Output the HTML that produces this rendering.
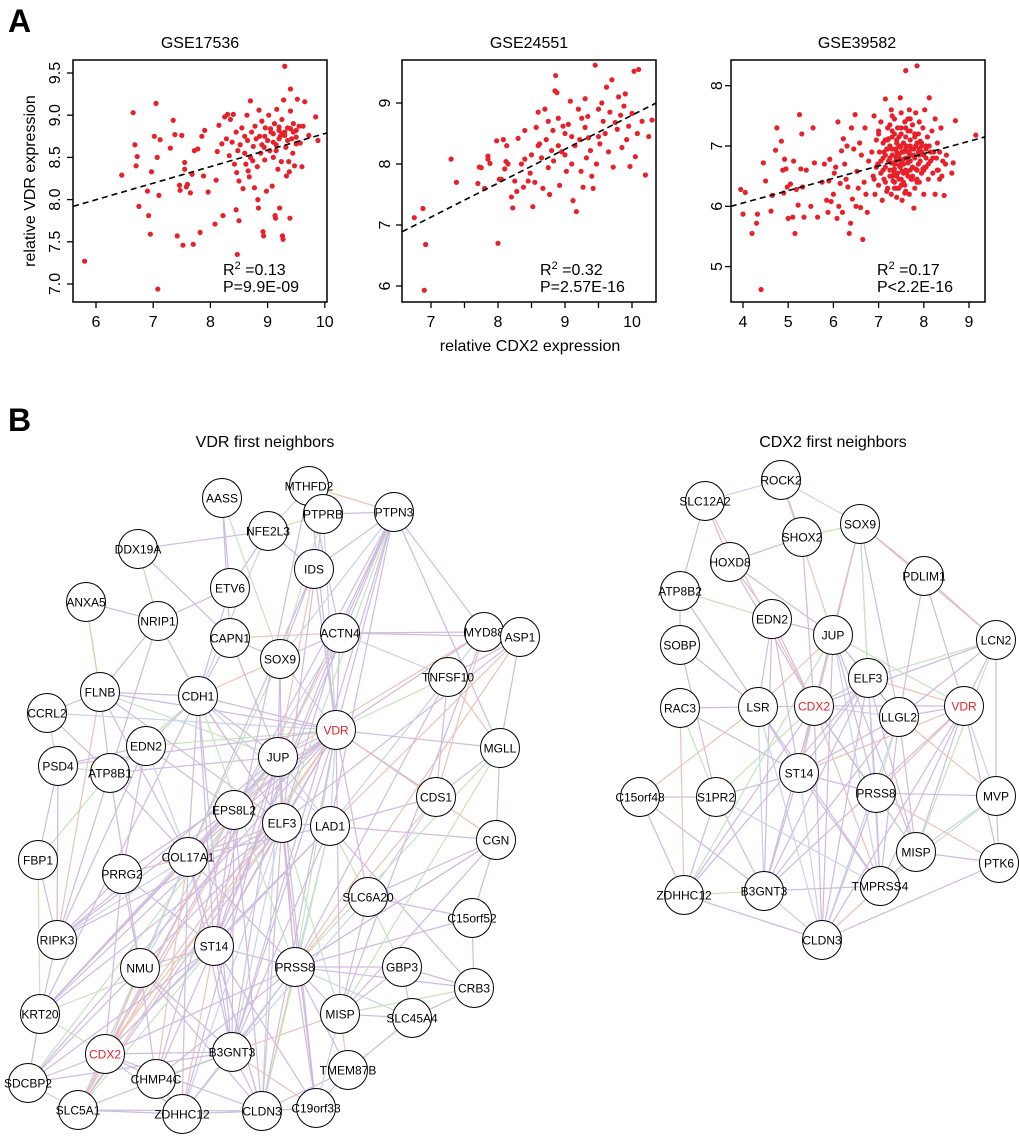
<!DOCTYPE html>
<html><head><meta charset="utf-8"><style>
body{margin:0;background:#fff}
svg{display:block;font-family:"Liberation Sans",Arial,sans-serif}
</style></head><body>
<svg id="fig" width="1020" height="1141" viewBox="0 0 1020 1141" xmlns="http://www.w3.org/2000/svg">
<text x="8" y="32" font-size="32" font-weight="bold">A</text>
<text x="8" y="431" font-size="32" font-weight="bold">B</text>
<text x="200" y="48" font-size="16" text-anchor="middle">GSE17536</text>
<text x="529" y="48" font-size="16" text-anchor="middle">GSE24551</text>
<text x="857" y="48" font-size="16" text-anchor="middle">GSE39582</text>
<text transform="translate(35,181) rotate(-90)" font-size="16" text-anchor="middle">relative VDR expression</text>
<text x="530" y="351" font-size="16" text-anchor="middle">relative CDX2 expression</text>
<text x="265" y="447" font-size="16" text-anchor="middle">VDR first neighbors</text>
<text x="833" y="447" font-size="16" text-anchor="middle">CDX2 first neighbors</text>
<g id="plots"></g>
<g id="edges"></g>
<g id="nodes"></g>
</svg>
<script>
// ---- scatter data ----
const p1x=[5.8,6.45,6.65,6.68,6.72,6.7,6.75,6.9,6.92,6.95,6.97,7.02,7.05,7.07,7.1,7.12,7.08,7.3,7.35,7.38,7.42,7.46,7.47,7.5,7.52,7.55,7.55,7.58,7.6,7.65,7.68,7.7,7.72,7.78,7.82,7.85,7.88,7.9,7.96,8.08,8.1,8.12,8.15,8.2,8.25,8.22,8.3,8.28,8.33,8.35,8.38,8.4,8.42,8.45,8.45,8.46,8.47,8.48,8.5,8.5,8.52,8.55,8.57,8.6,8.62,8.64,8.65,8.66,8.68,8.7,8.72,8.74,8.75,8.77,8.78,8.8,8.82,8.83,8.84,8.85,8.86,8.88,8.9,8.92,8.93,8.94,8.95,8.96,8.98,9.0,9.02,9.04,9.06,9.08,9.1,9.12,9.13,9.14,9.15,9.16,9.18,9.2,9.21,9.22,9.24,9.25,9.26,9.27,9.28,9.3,9.3,9.32,9.33,9.35,9.37,9.38,9.39,9.4,9.4,9.42,9.44,9.45,9.47,9.5,9.52,9.55,9.57,9.6,9.62,9.65,9.72,9.84,9.88,9.1,9.2,9.25,9.05,8.95,9.35,9.45,9.5,9.15,8.7,8.6,8.9,9.3,9.4,9.2,9.5,9.1];
const p1y=[7.27,8.29,9.03,8.65,8.51,8.4,7.92,8.1,7.81,7.59,8.33,8.75,9.14,8.5,8.05,8.71,6.94,8.61,8.94,8.77,7.57,8.17,8.11,8.76,7.46,8.44,8.36,8.15,8.18,8.08,8.3,7.47,8.58,8.6,7.61,8.75,8.28,8.82,8.09,7.71,8.23,8.57,8.88,8.66,8.98,7.81,9.01,8.72,8.52,8.95,8.68,9.01,8.42,8.8,7.88,8.32,7.35,8.58,8.22,7.75,8.65,8.85,8.13,8.55,8.42,9.0,8.7,8.34,8.27,9.17,8.8,8.46,8.63,8.14,8.87,8.72,8.39,8.0,7.9,9.06,8.75,8.55,8.93,7.62,7.57,8.62,8.47,8.85,8.1,8.7,9.0,8.58,8.8,8.16,8.5,8.9,7.81,7.78,8.65,9.07,8.36,8.82,7.9,8.75,8.45,8.95,7.57,7.53,9.18,9.58,8.8,8.62,8.28,8.85,8.45,8.33,7.78,9.31,9.05,8.72,8.55,8.9,8.4,8.82,9.19,8.87,8.67,8.39,8.87,9.16,8.76,8.98,8.7,8.78,8.72,8.78,8.84,8.75,8.7,8.8,8.66,8.58,8.5,8.75,8.65,8.76,8.84,8.86,8.74,8.68];
const p2x=[6.75,6.88,6.92,6.9,7.3,7.38,7.7,7.72,7.75,7.8,7.85,7.85,7.88,7.98,8.0,8.02,8.05,8.08,8.1,8.12,8.13,8.15,8.2,8.22,8.25,8.28,8.3,8.35,8.38,8.4,8.45,8.48,8.5,8.52,8.55,8.57,8.6,8.62,8.65,8.67,8.7,8.72,8.75,8.77,8.8,8.82,8.83,8.85,8.86,8.88,8.9,8.92,8.95,8.97,9.0,9.02,9.05,9.08,9.1,9.12,9.15,9.17,9.2,9.22,9.24,9.25,9.27,9.3,9.32,9.34,9.35,9.38,9.4,9.42,9.45,9.47,9.5,9.52,9.55,9.57,9.6,9.62,9.65,9.67,9.7,9.72,9.75,9.78,9.8,9.83,9.85,9.88,9.9,9.92,9.95,9.97,10.0,10.03,10.05,10.08,10.1,10.15,10.2,10.25,10.3,8.6,8.9,9.1,9.3,9.5,8.75,8.4,9.0];
const p2y=[7.12,7.27,6.68,5.93,8.08,7.7,7.68,7.95,7.94,7.6,8.13,8.08,8.01,8.38,6.7,7.75,7.75,8.4,7.92,8.04,8.3,8.0,7.46,7.28,7.72,7.55,8.42,8.0,7.62,8.08,7.72,7.85,8.15,7.3,7.7,8.6,8.3,8.33,8.1,7.6,8.9,8.4,7.94,7.5,8.22,8.55,8.05,9.2,9.45,9.17,8.75,7.65,8.2,8.62,8.5,7.88,8.65,9.03,8.0,7.4,8.3,7.22,8.9,8.4,7.88,8.75,7.62,9.07,8.1,8.78,8.43,8.22,7.8,7.6,9.62,8.0,8.9,8.33,9.0,8.7,8.5,9.26,8.2,8.85,9.38,7.95,8.68,8.57,9.1,8.8,8.27,8.95,9.15,8.4,8.62,7.96,8.83,9.52,8.12,8.5,9.55,8.7,7.82,8.45,8.72,8.85,8.3,8.45,8.6,8.45,8.7,8.55,8.15];
const p3x=[3.95,4.0,4.05,4.2,4.3,4.32,4.4,4.45,4.5,4.62,4.65,4.72,4.75,4.85,4.88,4.9,4.92,4.95,4.98,5.0,5.05,5.1,5.12,5.15,5.18,5.22,5.25,5.28,5.3,5.32,5.35,5.4,5.5,5.55,5.58,5.65,5.75,5.8,5.85,5.88,5.9,5.92,5.95,6.0,6.02,6.05,6.08,6.1,6.12,6.15,6.18,6.2,6.22,6.25,6.28,6.3,6.32,6.35,6.38,6.4,6.42,6.45,6.48,6.5,6.52,6.55,6.58,6.6,6.62,6.65,6.68,6.7,6.72,6.75,6.78,6.85,6.88,6.9,6.92,6.95,6.98,7.0,7.0,7.02,7.05,7.05,7.08,7.1,7.1,7.12,7.15,7.15,7.18,7.2,7.2,7.22,7.25,7.25,7.28,7.28,7.3,7.3,7.32,7.35,7.35,7.38,7.38,7.4,7.4,7.42,7.42,7.45,7.45,7.48,7.48,7.5,7.5,7.52,7.52,7.55,7.55,7.58,7.58,7.6,7.6,7.62,7.62,7.65,7.65,7.68,7.68,7.7,7.7,7.72,7.72,7.75,7.75,7.78,7.78,7.8,7.8,7.82,7.82,7.85,7.85,7.88,7.88,7.9,7.9,7.92,7.95,7.95,7.98,8.0,8.0,8.02,8.05,8.05,8.08,8.1,8.12,8.12,8.15,8.18,8.2,8.22,8.25,8.25,8.28,8.3,8.32,8.35,8.38,8.4,8.42,8.45,8.48,8.5,8.62,8.65,8.7,9.15,7.35,7.45,7.5,7.55,7.6,7.4,7.3,7.65,7.7,7.5,7.35,7.45,7.55,7.6,7.25,7.8,7.4,7.15,7.6,7.85,7.2,7.7,7.9,7.3,7.5,7.05,7.95,8.05,7.45,7.65,7.75,7.35,
7.1,7.15,7.2,7.25,7.3,7.35,7.4,7.45,7.5,7.55,7.6,7.65,7.7,7.75,7.8,7.85,7.9,7.95,8.0,8.1,7.12,7.22,7.32,7.42,7.52,7.62,7.72,7.82,7.92,8.02,7.18,7.28,7.38,7.48,7.58,7.68,7.78,7.88,7.98,8.15,6.9,6.95,7.0,7.05,8.2,8.3,8.35,7.3,7.5,7.7,7.4,7.6,7.45,7.55,7.65,7.25,7.35,7.85,8.05,7.15];
const p3y=[6.28,5.87,6.23,5.55,5.72,5.87,4.62,6.72,6.42,5.92,6.18,6.93,7.3,7.08,6.6,6.22,6.78,6.62,6.32,5.8,6.37,5.82,6.75,5.55,6.28,6.02,7.52,6.62,7.2,6.32,5.82,6.6,6.0,7.3,6.72,5.82,6.4,6.7,6.1,5.9,6.42,6.78,6.08,6.2,6.55,6.65,5.8,7.4,6.0,6.38,6.92,5.9,7.12,6.7,6.45,7.0,6.32,5.55,5.72,7.3,6.12,6.95,7.52,6.0,6.58,6.3,7.05,5.98,6.85,5.45,6.4,7.3,6.2,5.9,6.75,6.9,6.5,7.5,6.2,7.1,6.7,6.35,7.2,6.9,6.55,7.4,6.1,6.8,7.05,6.45,7.78,6.65,6.95,6.3,7.3,6.75,7.0,6.5,7.6,6.2,6.85,7.15,6.6,6.4,7.45,6.95,6.75,7.1,6.3,6.55,7.3,6.85,7.0,6.65,7.8,6.45,7.2,6.9,6.1,7.05,6.7,7.4,6.35,6.8,8.25,7.0,6.55,7.25,6.9,6.2,7.6,6.75,7.1,6.45,6.95,7.35,6.65,6.85,5.97,7.15,6.3,7.0,7.55,6.6,8.33,6.9,7.2,6.4,7.4,6.75,7.05,6.55,7.3,6.85,6.2,7.6,6.95,6.65,7.15,6.45,7.0,7.8,6.75,7.25,6.55,6.9,7.45,6.2,6.8,7.05,6.6,6.9,7.3,6.5,6.75,6.18,6.7,6.85,6.55,6.72,7.42,7.18,7.2,6.8,7.0,6.9,7.15,6.9,6.95,6.8,7.0,6.75,6.7,7.15,6.55,7.3,6.8,6.8,6.5,6.85,6.6,7.05,7.1,6.6,6.85,6.5,6.35,6.75,6.9,6.8,6.45,7.45,6.45,6.3,
6.6,6.4,6.95,6.6,7.25,6.62,7.05,6.3,7.3,6.4,6.95,6.5,7.25,6.5,7.2,6.45,6.95,7.0,6.6,6.7,6.9,7.12,6.42,6.88,6.58,7.0,6.85,6.62,7.08,6.65,6.25,6.72,6.82,6.98,6.22,6.88,6.95,6.7,6.62,6.9,6.45,6.65,7.25,6.75,6.8,6.6,6.45,7.5,7.55,7.45,6.15,6.25,6.68,6.78,6.72,7.35,6.55,6.4,7.0,7.1];
const xTicks1=[6,7,8,9,10], yTicks1=[7.0,7.5,8.0,8.5,9.0,9.5];
const xTicks2=[7,8,9,10], yTicks2=[6,7,8,9];
const xTicks3=[4,5,6,7,8,9], yTicks3=[5,6,7,8];
const fit1=[5.6,7.92,10.04,8.79], fit2=[6.57,6.89,10.36,9.0], fit3=[3.73,6.0,9.35,7.15];
const stats1=["0.13","P=9.9E-09"], stats2=["0.32","P=2.57E-16"], stats3=["0.17","P<2.2E-16"];

const NS="http://www.w3.org/2000/svg";
function mk(tag,attrs,parent){const e=document.createElementNS(NS,tag);for(const k in attrs)e.setAttribute(k,attrs[k]);parent.appendChild(e);return e;}
const plots=document.getElementById('plots');

function scatter(id,box,xa,ya,xs,ys,xt,yt,minorX,fit,st,statX,yLabX,yFmt){
  const sx=v=>xa[0]+(v-xa[1])*xa[2], sy=v=>ya[0]-(v-ya[1])*ya[2];
  const g=mk('g',{},plots);
  
  
  const r=mk('rect',{x:box[0],y:box[1],width:box[2]-box[0],height:box[3]-box[1],fill:'none',stroke:'#000','stroke-width':1.5},g);
  
  
  const ticksX=minorX?[]:xt;
  if(minorX){for(let v=xt[0];v<=xt[xt.length-1]+1e-9;v+=0.5)ticksX.push(v);}
  ticksX.forEach(v=>{const l=mk('line',{x1:sx(v),x2:sx(v),y1:box[3],y2:box[3]+6,stroke:'#000','stroke-width':1.3},g);
    
    });
  xt.forEach(v=>{const t=mk('text',{x:sx(v),y:box[3]+25,'font-size':16,'text-anchor':'middle'},g);t.textContent=v;
    
    });
  yt.forEach(v=>{const l=mk('line',{x1:box[0]-6,x2:box[0],y1:sy(v),y2:sy(v),stroke:'#000','stroke-width':1.3},g);
    
    
    const t=mk('text',{transform:`translate(${yLabX},${sy(v)}) rotate(-90)`,'font-size':16,'text-anchor':'middle'},g);t.textContent=yFmt(v);
    
    });
  xs.forEach((v,i)=>{const c=mk('circle',{cx:sx(v),cy:sy(ys[i]),r:2.6,fill:'#e8202a'},g);
    
    });
  const ln=mk('line',{x1:sx(fit[0]),y1:sy(fit[1]),x2:sx(fit[2]),y2:sy(fit[3]),stroke:'#000','stroke-width':1.6,'stroke-dasharray':'6,4'},g);
  
  
  const t1=mk('text',{x:statX,y:275,'font-size':16},g);
  t1.innerHTML='R<tspan dy="-6" font-size="11">2</tspan><tspan dy="6"> =</tspan>'+st[0];
  
  
  const t2=mk('text',{x:statX,y:292,'font-size':16},g);t2.textContent=st[1];
  
  
}
scatter('gse17536',[73,60,327,302],[96,6,57.2],[73,9.5,84.4],p1x,p1y,xTicks1,yTicks1,false,fit1,stats1,223,60,v=>v.toFixed(1));
scatter('gse24551',[402,60,656,302],[431,7,67],[225,7,61],p2x,p2y,xTicks2,yTicks2,true,fit2,stats2,540,390,v=>v);
scatter('gse39582',[731,60,985,302],[743,4,45.2],[146,7,60.3],p3x,p3y,xTicks3,yTicks3,false,fit3,stats3,877,722,v=>v);

// ---- networks ----
const leftNames=["MTHFD2","AASS","PTPRB","PTPN3","NFE2L3","DDX19A","IDS","ETV6","ANXA5","NRIP1","CAPN1","ACTN4","MYD88","ASP1","SOX9","TNFSF10","FLNB","CDH1","CCRL2","VDR","EDN2","JUP","MGLL","PSD4","ATP8B1","CDS1","EPS8L2","ELF3","LAD1","CGN","COL17A1","FBP1","PRRG2","SLC6A20","C15orf52","RIPK3","ST14","NMU","PRSS8","GBP3","CRB3","KRT20","MISP","SLC45A4","CDX2","B3GNT3","TMEM87B","SDCBP2","CHMP4C","SLC5A1","ZDHHC12","CLDN3","C19orf33"];
const leftX=[309,222,323,394,268,138,314,230,86,158,230,340,484,520,280,448,100,198,47,336,146,278,500,58,110,436,234,282,330,496,188,38,122,368,472,57,214,140,295,402,474,40,340,412,105,232,348,28,156,78,182,262,316];
const leftY=[486,498,514,512,531,549,569,588,602,621,638,633,632,637,659,677,692,696,713,730,746,757,748,766,773,797,810,823,826,840,857,860,874,897,918,940,946,968,967,967,988,1014,1014,1018,1054,1052,1070,1083,1079,1110,1114,1111,1108];
const leftEdges="19-21 19-27 19-26 19-28 19-36 19-38 19-45 19-51 19-44 19-17 19-30 19-11 19-14 19-3 19-12 19-22 19-25 19-29 19-42 19-33 19-0 19-2 19-6 21-27 21-26 21-36 21-38 21-30 21-17 21-45 21-51 21-44 21-16 21-24 21-41 21-49 27-28 27-36 27-38 27-45 27-51 27-42 27-30 27-17 27-44 27-47 27-35 28-36 28-38 28-45 28-33 28-29 28-40 26-30 26-36 26-44 26-48 26-37 17-30 17-24 17-16 17-9 17-14 17-10 17-20 17-45 30-35 30-37 30-44 30-41 30-36 30-48 36-38 36-45 36-51 36-44 36-37 36-49 38-42 38-45 38-51 38-52 38-39 38-40 38-43 45-51 45-48 45-50 45-44 45-42 51-52 51-50 51-46 44-49 44-47 44-41 44-48 41-35 41-47 35-31 35-32 31-23 23-18 18-16 16-8 16-24 8-9 9-5 9-7 7-1 7-4 4-0 4-6 4-2 1-10 10-14 10-11 14-11 14-6 11-13 11-15 11-12 12-13 12-3 3-22 15-22 22-29 29-34 34-40 25-33 25-22 33-39 39-40 39-43 42-46 46-52 32-37 32-20 20-24 20-23 24-31 6-3 2-3 0-3 5-10 13-15 43-42 47-49 49-50 48-50 37-48 34-33 12-25 15-25 29-33 26-27 21-28 19-16 19-20 20-26 24-30 32-30 37-45 40-43 3-11 3-14 0-11 2-14 19-35 19-41 19-49 19-47 19-32 19-23 19-18 21-35 21-47 21-50 21-52 21-12 21-3 27-41 27-49 27-50 27-52 27-3 27-13 26-41 26-49 26-51 26-45 26-3 26-11 28-44 28-51 28-30 28-3 28-13 30-38 30-45 30-51 30-49 30-50 36-41 36-47 36-48 36-50 36-52 38-44 38-48 38-50 38-29 38-22 45-47 45-49 45-52 44-51 44-50 17-27 17-28 17-36 17-38 17-41 16-30 16-35 16-27 16-9 23-35 23-24 18-24 31-41 32-44 32-36 37-44 37-51 24-37 24-35 20-30 20-35 14-30 14-27 14-21 11-21 11-27 11-36 12-19 12-28 13-22 15-19 15-38 25-28 25-38 29-38 29-42 33-42 33-45 39-42 40-42 43-46 34-38 6-21 6-30 2-27 0-36 4-17 7-17 1-14 10-21 9-24 8-16 5-4 47-41 49-51 52-42 46-38 22-42 3-36 3-45 13-38 12-42";
const rightNames=["ROCK2","SLC12A2","SHOX2","SOX9","HOXD8","PDLIM1","ATP8B2","EDN2","JUP","LCN2","SOBP","ELF3","RAC3","LSR","CDX2","VDR","LLGL2","ST14","PRSS8","MVP","C15orf48","S1PR2","MISP","PTK6","ZDHHC12","B3GNT3","TMPRSS4","CLDN3"];
const rightX=[781,705,802,860,730,924,680,772,833,996,680,868,680,758,814,964,899,799,876,996,640,716,916,999,684,764,880,822];
const rightY=[480,501,537,524,562,576,591,619,635,640,645,678,708,707,706,706,717,773,793,796,797,797,852,863,895,891,886,940];
const rightEdges="14-8 14-11 14-13 14-16 14-17 14-18 14-22 14-25 14-26 14-27 14-15 14-7 14-3 14-9 14-21 14-24 8-11 8-13 8-17 8-18 8-25 8-26 8-27 8-15 8-16 11-16 11-15 11-17 11-18 11-22 11-26 11-25 11-9 11-3 15-16 15-18 15-22 15-26 15-9 15-19 15-23 16-18 16-22 16-26 16-19 17-18 17-25 17-26 17-27 17-21 18-22 18-26 18-27 18-23 22-26 22-23 25-26 25-27 24-27 24-25 21-25 20-21 20-13 12-13 10-6 6-1 1-0 0-2 2-3 3-5 5-9 3-9 4-7 7-13 7-8 13-25 13-17 12-21 9-19 19-23 26-27 1-4 2-4 3-8 0-3 10-13 6-7 5-16 4-8 12-24 20-24 21-24 27-23 19-22 8-22 8-24 11-27 11-24 15-17 15-25 15-27 16-25 16-27 16-17 3-11 3-14 3-16 3-17 7-17 7-25 13-26 13-27 9-16 9-22 5-15 2-14 1-14 6-13 12-17 20-25 21-26 10-21 19-26 19-18 4-14 0-8";
const edgeColors=['#cfbadf','#cfbadf','#cfbadf','#c9d2ea','#cfbadf','#c6e3bd','#cfbadf','#cfbadf','#ecc3b6'];
const edgesG=document.getElementById('edges'), nodesG=document.getElementById('nodes');
function network(prefix,names,xs,ys,edges,red){
  edges.split(' ').forEach((p,i)=>{const [a,b]=p.split('-').map(Number);
    const l=mk('line',{x1:xs[a],y1:ys[a],x2:xs[b],y2:ys[b],stroke:edgeColors[i%edgeColors.length],'stroke-width':1.2},edgesG);
    
    });
  names.forEach((n,i)=>{const g=mk('g',{},nodesG);
    
    
    mk('circle',{cx:xs[i],cy:ys[i],r:19.5,fill:'#fff',stroke:'#000','stroke-width':1},g);
    const t=mk('text',{x:xs[i],y:ys[i]+4.5,'font-size':12,'text-anchor':'middle',fill:red.includes(n)?'#e8202a':'#000'},g);
    t.textContent=n;});
}
network('vdr-network',leftNames,leftX,leftY,leftEdges,['VDR','CDX2']);
network('cdx2-network',rightNames,rightX,rightY,rightEdges,['VDR','CDX2']);
</script>
</body></html>
